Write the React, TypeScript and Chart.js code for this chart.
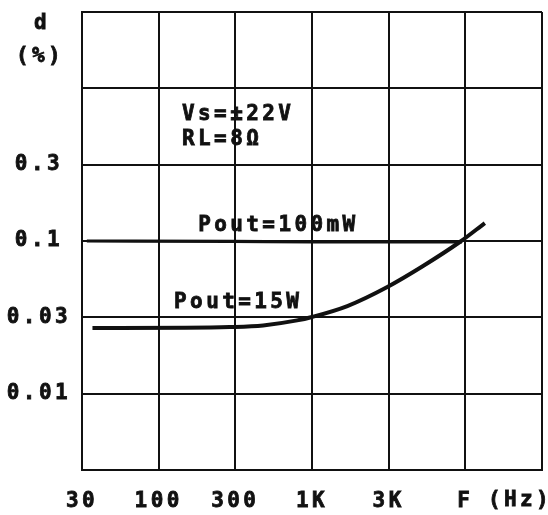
import React, { useEffect, useRef } from 'react';
import { Chart, registerables } from 'chart.js';

Chart.register(...registerables);

// Axis grid positions (half-decade log grid) and their labels
const xGridValues = [31.62, 100, 316.2, 1000, 3162, 10000, 31623];
const xTickLabels = ['30', '100', '300', '1K', '3K', 'F', ''];
const yGridValues = [0.003162, 0.01, 0.03162, 0.1, 0.3162, 1, 3.162];
const yTickLabels = ['', '0.01', '0.03', '0.1', '0.3', '', ''];

// Series: Pout = 100mW
const freq100mW = [34, 300, 1000, 3000, 9500];
const thd100mW = [0.1, 0.0995, 0.0985, 0.0985, 0.0985];

// Series: Pout = 15W
const freq15W = [37, 150, 290, 480, 800, 1000, 1700, 3100, 5300, 9200, 13400];
const thd15W = [0.0269, 0.027, 0.0273, 0.028, 0.0302, 0.0318, 0.0375, 0.05, 0.0686, 0.0985, 0.131];

// Text annotations (left edge x in Hz, centre y in %)
const noteTexts = ['Vs=±22V', 'RL=8Ω', 'Pout=100mW', 'Pout=15W'];
const noteFreqs = [142, 142, 181, 126];
const noteThds = [0.669, 0.459, 0.127, 0.0398];

const FONT_FAMILY = '"DejaVu Sans Mono", monospace';
const FONT_SIZE = 21;
const INK = '#111';
const SPACING = '3.4px';

const textPlugin = {
  id: 'datasheetTexts',
  beforeUpdate(chart: any) {
    chart.ctx.letterSpacing = SPACING;
  },
  beforeDraw(chart: any) {
    const ctx = chart.ctx;
    ctx.letterSpacing = SPACING;
    ctx.save();
    ctx.fillStyle = '#fff';
    ctx.fillRect(0, 0, chart.width, chart.height);
    ctx.restore();
  },
  afterDatasetsDraw(chart: any) {
    const { ctx, chartArea } = chart;
    const xs = chart.scales.x;
    const ys = chart.scales.y;
    ctx.save();
    ctx.letterSpacing = SPACING;
    ctx.font = `bold ${FONT_SIZE}px ${FONT_FAMILY}`;
    ctx.fillStyle = INK;
    ctx.strokeStyle = INK;
    ctx.lineWidth = 0.8;
    ctx.textBaseline = 'middle';
    const put = (t: string, x: number, y: number) => {
      ctx.fillText(t, x, y);
      ctx.strokeText(t, x, y);
    };
    ctx.textAlign = 'left';
    noteTexts.forEach((t, i) => {
      put(t, xs.getPixelForValue(noteFreqs[i]), ys.getPixelForValue(noteThds[i]));
    });
    ctx.textAlign = 'center';
    put('d', chartArea.left - 40, chartArea.top + 12);
    put('(%)', chartArea.left - 42, chartArea.top + 45);
    put('(Hz)', chartArea.right - 22, chartArea.bottom + 31);
    ctx.restore();
  },
};

const zeroPad = (s: any) => {
  s.paddingTop = 0;
  s.paddingBottom = 0;
  s.paddingLeft = 0;
  s.paddingRight = 0;
};

export default function App() {
  const canvasRef = useRef<HTMLCanvasElement | null>(null);

  useEffect(() => {
    if (!canvasRef.current) return;
    const tickFont = { family: FONT_FAMILY, size: FONT_SIZE, weight: 'bold' as const };
    const chart = new Chart(canvasRef.current, {
      type: 'line',
      data: {
        datasets: [
          {
            label: 'Pout=100mW',
            data: freq100mW.map((f, i) => ({ x: f, y: thd100mW[i] })),
            borderColor: INK,
            borderWidth: 3.2,
            pointRadius: 0,
            cubicInterpolationMode: 'monotone',
            fill: false,
          },
          {
            label: 'Pout=15W',
            data: freq15W.map((f, i) => ({ x: f, y: thd15W[i] })),
            borderColor: INK,
            borderWidth: 4,
            pointRadius: 0,
            cubicInterpolationMode: 'monotone',
            fill: false,
          },
        ],
      },
      options: {
        responsive: false,
        animation: false,
        layout: { padding: { left: 0, top: 12, right: 6, bottom: 0 } },
        plugins: {
          legend: { display: false },
          tooltip: { enabled: false },
        },
        scales: {
          x: {
            type: 'logarithmic',
            min: xGridValues[0],
            max: xGridValues[xGridValues.length - 1],
            afterBuildTicks: (s: any) => {
              s.ticks = xGridValues.map((v) => ({ value: v }));
            },
            afterFit: (s: any) => {
              s.height = 45;
              zeroPad(s);
            },
            grid: { color: INK, lineWidth: 2, drawTicks: false },
            border: { color: INK, width: 2 },
            ticks: {
              autoSkip: false,
              maxRotation: 0,
              padding: 19,
              color: INK,
              textStrokeColor: INK,
              textStrokeWidth: 0.8,
              font: tickFont,
              callback: (_v: any, i: number) => xTickLabels[i],
            },
          },
          y: {
            type: 'logarithmic',
            min: yGridValues[0],
            max: yGridValues[yGridValues.length - 1],
            afterBuildTicks: (s: any) => {
              s.ticks = yGridValues.map((v) => ({ value: v }));
            },
            afterFit: (s: any) => {
              s.width = 82;
              zeroPad(s);
            },
            grid: { color: INK, lineWidth: 2, drawTicks: false },
            border: { color: INK, width: 2 },
            ticks: {
              autoSkip: false,
              crossAlign: 'center',
              padding: 11,
              color: INK,
              textStrokeColor: INK,
              textStrokeWidth: 0.8,
              font: tickFont,
              callback: (_v: any, i: number) => yTickLabels[i],
            },
          },
        },
      },
      plugins: [textPlugin],
    } as any);
    return () => chart.destroy();
  }, []);

  return (
    <div style={{ position: 'absolute', left: 0, top: 0, width: 548, height: 515, background: '#fff' }}>
      <canvas ref={canvasRef} width={548} height={515} style={{ display: 'block' }} />
    </div>
  );
}
